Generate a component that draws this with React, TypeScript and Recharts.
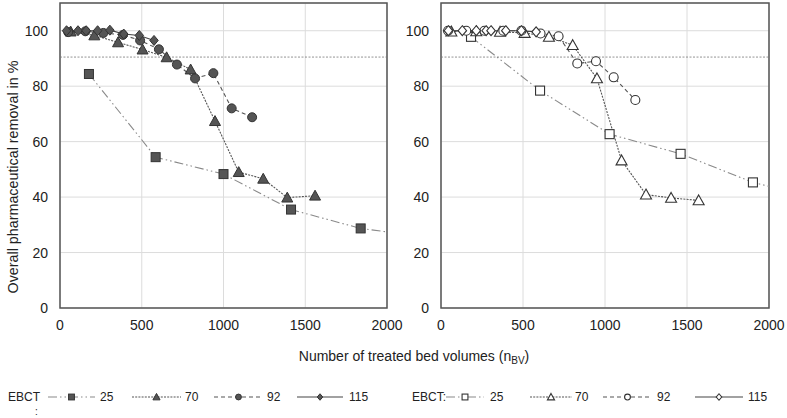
import React from "react";
import {
  LineChart,
  Line,
  XAxis,
  YAxis,
  CartesianGrid,
  ReferenceLine,
  ReferenceArea,
} from "recharts";

// left panel (filled markers)
const bv25L = [177, 585, 1000, 1413, 1839, 2250];
const rm25L = [84.4, 54.4, 48.3, 35.5, 28.7, 25.5];
const bv70L = [65, 210, 355, 505, 652, 799, 948, 1093, 1243, 1390, 1560];
const rm70L = [99.7, 98.3, 95.8, 93.2, 90.4, 86, 67.4, 49, 46.6, 39.8, 40.5];
const bv92L = [50, 155, 265, 385, 490, 605, 715, 826, 938, 1050, 1175];
const rm92L = [99.5, 99.8, 99.2, 98.5, 96.5, 93.3, 87.8, 82.8, 84.7, 72, 68.8];
const bv115L = [40, 110, 160, 230, 305, 390, 485, 575];
const rm115L = [100, 100, 100, 100, 100.2, 98.8, 98.3, 96.5];

// right panel (open markers)
const bv25R = [183, 604, 1028, 1461, 1902, 2200];
const rm25R = [97.8, 78.4, 62.7, 55.6, 45.3, 41];
const bv70R = [63, 215, 360, 510, 658, 803, 951, 1101, 1250, 1403, 1571];
const rm70R = [99.7, 99.8, 99.6, 99.2, 97.8, 94.8, 82.8, 53.2, 40.9, 39.7, 38.8];
const bv92R = [43, 154, 265, 380, 490, 607, 717, 831, 945, 1053, 1185];
const rm92R = [100, 100, 100, 100, 100, 99, 98, 88.2, 89, 83.2, 75];
const bv115R = [45, 130, 215, 275, 305, 395, 490, 580];
const rm115R = [100, 100, 100, 100, 100, 100, 100, 99.6];

const THRESHOLD = 90.5;
const xTicks = [0, 500, 1000, 1500, 2000];
const yTicks = [0, 20, 40, 60, 80, 100];
const ebct = ["25", "70", "92", "115"];

const zip = (xs: number[], ys: number[]) => xs.map((x, i) => ({ x, y: ys[i] }));

const FONT = "'Liberation Sans', Arial, sans-serif";
const TXT = "#222";

type Shape = "square" | "triangle" | "circle" | "diamond";
const shapes: Shape[] = ["square", "triangle", "circle", "diamond"];
const dashes = ["9 3 1.5 3 1.5 3", "2 1.2", "4 3", undefined];
const lineColors = ["#8a8a8a", "#555", "#555", "#444"];

function Marker({ cx, cy, shape, filled, scale = 1 }: { cx: number; cy: number; shape: Shape; filled: boolean; scale?: number }) {
  const fill = filled ? "#555" : "#fff";
  const stroke = "#333";
  const sw = filled ? 1 : 1.1;
  const s = scale;
  if (shape === "square") {
    const h = 4.5 * s;
    return <rect x={cx - h} y={cy - h} width={2 * h} height={2 * h} fill={fill} stroke={stroke} strokeWidth={sw} />;
  }
  if (shape === "triangle") {
    const h = 5.5 * s;
    return (
      <polygon
        points={`${cx},${cy - h} ${cx + h},${cy + h * 0.8} ${cx - h},${cy + h * 0.8}`}
        fill={fill}
        stroke={stroke}
        strokeWidth={sw}
      />
    );
  }
  if (shape === "circle") {
    return <circle cx={cx} cy={cy} r={4.5 * s} fill={fill} stroke={stroke} strokeWidth={sw} />;
  }
  const h = 5 * s;
  return (
    <polygon
      points={`${cx},${cy - h} ${cx + h * 0.85},${cy} ${cx},${cy + h} ${cx - h * 0.85},${cy}`}
      fill={fill}
      stroke={stroke}
      strokeWidth={sw}
    />
  );
}

function Panel({
  series,
  filled,
  width,
  yAxisWidth,
  marginRight,
}: {
  series: { x: number; y: number }[][];
  filled: boolean;
  width: number;
  yAxisWidth: number;
  marginRight: number;
}) {
  return (
    <LineChart width={width} height={340} margin={{ top: 3, right: marginRight, bottom: 2, left: 0 }}>
      <CartesianGrid stroke="#dcdcdc" strokeWidth={1} />
      <XAxis
        type="number"
        dataKey="x"
        domain={[0, 2000]}
        ticks={xTicks}
        allowDataOverflow
        axisLine={false}
        tickLine={false}
        height={30}
        tick={{ fontSize: 14, fill: TXT, fontFamily: FONT }}
        tickMargin={6}
      />
      <YAxis
        type="number"
        dataKey="y"
        domain={[0, 110]}
        ticks={yTicks}
        allowDataOverflow
        axisLine={false}
        tickLine={false}
        width={yAxisWidth}
        tick={{ fontSize: 14, fill: TXT, fontFamily: FONT }}
        tickMargin={6}
      />
      <ReferenceLine y={THRESHOLD} stroke="#777" strokeWidth={0.8} strokeDasharray="2 1.5" />
      {series.map((d, i) => (
        <Line
          key={ebct[i]}
          data={d}
          dataKey="y"
          type="linear"
          stroke={lineColors[i]}
          strokeWidth={1.1}
          strokeDasharray={dashes[i]}
          isAnimationActive={false}
          dot={(p: any) =>
            p.payload.x > 2000 ? (
              <g key={p.index} />
            ) : (
              <g key={p.index}>
                <Marker cx={p.cx} cy={p.cy} shape={shapes[i]} filled={filled} />
              </g>
            )
          }
          activeDot={false}
        />
      ))}
      <ReferenceArea x1={0} x2={2000} y1={0} y2={110} fill="none" stroke="#555" strokeWidth={1.5} fillOpacity={0} />
    </LineChart>
  );
}

function LegendRow({ x, label, filled, items }: { x: number; label: string; filled: boolean; items: { x1: number; x2: number; tx: number }[] }) {
  const y = 397;
  return (
    <g fontFamily={FONT} fontSize={12} fill={TXT}>
      <text x={x} y={y + 4}>{label}</text>
      {items.map((it, i) => (
        <g key={ebct[i]}>
          <line x1={it.x1} x2={it.x2} y1={y} y2={y} stroke={lineColors[i]} strokeWidth={1.1} strokeDasharray={dashes[i]} />
          <Marker cx={(it.x1 + it.x2) / 2} cy={y} shape={shapes[i]} filled={filled} scale={0.65} />
          <text x={it.tx} y={y + 4}>{ebct[i]}</text>
        </g>
      ))}
    </g>
  );
}

export default function App() {
  const left = [zip(bv25L, rm25L), zip(bv70L, rm70L), zip(bv92L, rm92L), zip(bv115L, rm115L)];
  const right = [zip(bv25R, rm25R), zip(bv70R, rm70R), zip(bv92R, rm92R), zip(bv115R, rm115R)];
  return (
    <div style={{ position: "absolute", left: 0, top: 0, width: 787, height: 418, background: "#fff" }}>
      <div style={{ position: "absolute", left: 0, top: 0 }}>
        <Panel series={left} filled width={415} yAxisWidth={60} marginRight={28} />
      </div>
      <div style={{ position: "absolute", left: 390, top: 0 }}>
        <Panel series={right} filled={false} width={397} yAxisWidth={51} marginRight={18} />
      </div>
      <svg width={787} height={418} style={{ position: "absolute", left: 0, top: 0, pointerEvents: "none" }}>
        <text
          transform="translate(18,177) rotate(-90)"
          textAnchor="middle"
          fontFamily={FONT}
          fontSize={14.3}
          fill={TXT}
        >
          Overall pharmaceutical removal in %
        </text>
        <text x={414} y={361} textAnchor="middle" fontFamily={FONT} fontSize={14}>
          <tspan fill={TXT}>Number of treated bed volumes (n</tspan>
          <tspan fill={TXT} fontSize={10} dy={3}>BV</tspan>
          <tspan fill={TXT} dy={-3}>)</tspan>
        </text>
        <LegendRow
          x={8}
          label="EBCT"
          filled
          items={[
            { x1: 48, x2: 95, tx: 100 },
            { x1: 132, x2: 181, tx: 185 },
            { x1: 214, x2: 263, tx: 267 },
            { x1: 297, x2: 343, tx: 349 },
          ]}
        />
        <text x={35} y={415} fontFamily={FONT} fontSize={10} fill={TXT}>:</text>
        <LegendRow
          x={412}
          label="EBCT:"
          filled={false}
          items={[
            { x1: 446, x2: 484, tx: 490 },
            { x1: 530, x2: 572, tx: 575 },
            { x1: 603, x2: 652, tx: 657 },
            { x1: 695, x2: 743, tx: 748 },
          ]}
        />
      </svg>
    </div>
  );
}
